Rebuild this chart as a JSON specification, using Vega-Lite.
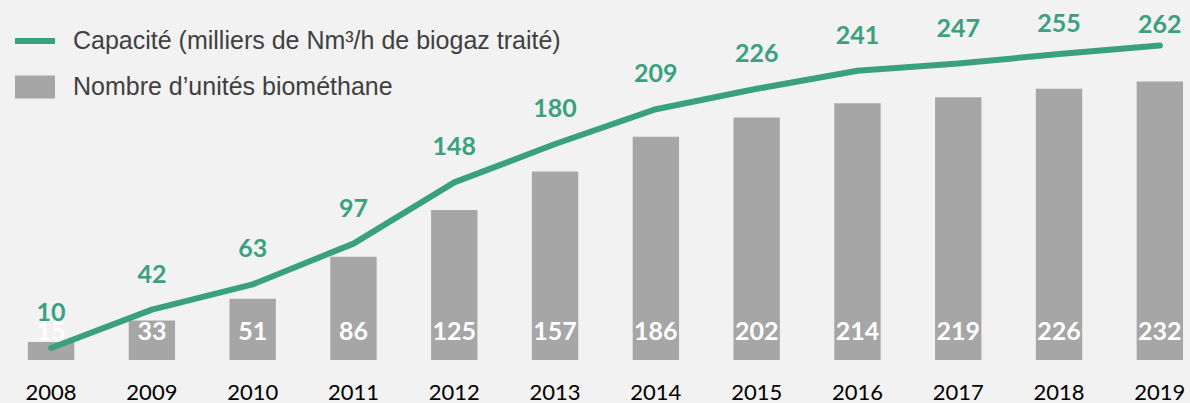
{
  "$schema": "https://vega.github.io/schema/vega-lite/v6.json",
  "width": 1190,
  "height": 360,
  "autosize": {"type": "none"},
  "padding": {"left": 0, "top": 0, "right": 0, "bottom": 43},
  "background": "#f2f2f2",
  "config": {"view": {"stroke": null}},
  "data": {"values": [
    {"year": "2008", "units": 15, "capacity": 10},
    {"year": "2009", "units": 33, "capacity": 42},
    {"year": "2010", "units": 51, "capacity": 63},
    {"year": "2011", "units": 86, "capacity": 97},
    {"year": "2012", "units": 125, "capacity": 148},
    {"year": "2013", "units": 157, "capacity": 180},
    {"year": "2014", "units": 186, "capacity": 209},
    {"year": "2015", "units": 202, "capacity": 226},
    {"year": "2016", "units": 214, "capacity": 241},
    {"year": "2017", "units": 219, "capacity": 247},
    {"year": "2018", "units": 226, "capacity": 255},
    {"year": "2019", "units": 232, "capacity": 262}
  ]},
  "encoding": {
    "x": {
      "field": "year", "type": "ordinal",
      "scale": {"paddingInner": 0.54, "paddingOuter": 0.173, "align": 0.8},
      "axis": {"title": null, "labelAngle": 0, "labelFont": "Lato", "labelFontSize": 22, "labelColor": "#000000", "ticks": false, "domain": false, "grid": false, "labelPadding": 22}
    }
  },
  "layer": [
    {
      "mark": {"type": "bar"},
      "encoding": {
        "y": {"field": "units", "type": "quantitative", "scale": {"domain": [0, 300]}, "axis": null},
        "color": {
          "datum": "Nombre d’unités biométhane",
          "scale": {"domain": ["Capacité (milliers de Nm³/h de biogaz traité)", "Nombre d’unités biométhane"], "range": ["#3aa17e", "#a6a6a6"]},
          "legend": {
            "title": null,
            "orient": "none",
            "legendX": 15,
            "legendY": 21,
            "padding": 0,
            "symbolSize": 1600,
            "labelOffset": 18,
            "rowPadding": 13,
            "labelFont": "Liberation Sans",
            "labelFontSize": 25,
            "labelColor": "#404040",
            "labelLimit": 600,
            "labelExpr": "datum.label === 'Nombre d’unités biométhane' ? '\u00a0' + datum.label : datum.label",
            "encode": {
              "symbols": {"update": {
                "shape": {"signal": "datum.value === 'Nombre d’unités biométhane' ? 'M-1,-0.575H1V0.575H-1Z' : 'M-1,-0.15H1V0.15H-1Z'"},
                "fill": {"signal": "datum.value === 'Nombre d’unités biométhane' ? '#808080' : '#2e8566'"},
                "stroke": {"value": "transparent"},
                "strokeWidth": {"value": 0},
                "opacity": {"value": 1}
              }}
            }
          }
        }
      }
    },
    {
      "mark": {"type": "text", "font": "Lato", "fontWeight": "bold", "fontSize": 25, "color": "#ffffff", "baseline": "alphabetic", "dy": -20},
      "encoding": {
        "y": {"datum": 0, "type": "quantitative"},
        "text": {"field": "units", "type": "quantitative"}
      }
    },
    {
      "mark": {"type": "line", "strokeWidth": 6, "strokeCap": "round", "strokeJoin": "round"},
      "encoding": {
        "y": {"field": "capacity", "type": "quantitative"},
        "color": {"datum": "Capacité (milliers de Nm³/h de biogaz traité)"}
      }
    },
    {
      "transform": [{"filter": "datum.capacity < 250"}],
      "mark": {"type": "text", "font": "Lato", "fontWeight": "bold", "fontSize": 25, "color": "#3aa17e", "baseline": "alphabetic", "dy": -27},
      "encoding": {
        "y": {"field": "capacity", "type": "quantitative"},
        "text": {"field": "capacity", "type": "quantitative"}
      }
    },
    {
      "transform": [{"filter": "datum.capacity >= 250 && datum.capacity < 260"}],
      "mark": {"type": "text", "font": "Lato", "fontWeight": "bold", "fontSize": 25, "color": "#3aa17e", "baseline": "alphabetic", "dy": -22},
      "encoding": {
        "y": {"field": "capacity", "type": "quantitative"},
        "text": {"field": "capacity", "type": "quantitative"}
      }
    },
    {
      "transform": [{"filter": "datum.capacity >= 260"}],
      "mark": {"type": "text", "font": "Lato", "fontWeight": "bold", "fontSize": 25, "color": "#3aa17e", "baseline": "alphabetic", "dy": -13},
      "encoding": {
        "y": {"field": "capacity", "type": "quantitative"},
        "text": {"field": "capacity", "type": "quantitative"}
      }
    }
  ]
}
